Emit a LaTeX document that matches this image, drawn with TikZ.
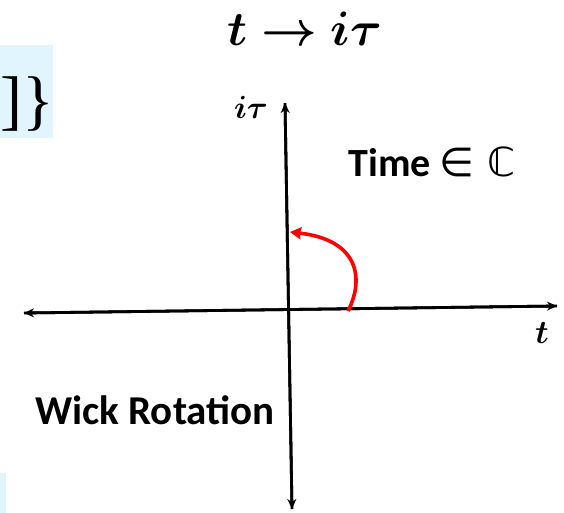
\documentclass[tikz,border=0pt]{standalone}
\usepackage{graphicx}
\usepackage{amsmath,amssymb,bm}
\usepackage{fontspec}
\setmainfont{Liberation Serif}
\newfontfamily\labelfont{Carlito}
\usetikzlibrary{arrows.meta}
\definecolor{boxblue}{HTML}{E1F5FE}
\definecolor{arcred}{HTML}{FF0000}
\tikzset{
  axis/.style={line width=2.8pt,-{Stealth[length=10pt,width=9pt]}},
  rot/.style={line width=3.6pt,arcred,-{Stealth[length=11pt,width=12pt,inset=1pt]}},
  lbl/.style={font=\labelfont\bfseries\fontsize{40}{46}\selectfont,inner sep=0pt},
  mathlbl/.style={inner sep=0pt}
}
\begin{document}
\begin{tikzpicture}[x=1pt,y=-1pt]
\useasboundingbox (0,0) rectangle (564,512);
\clip (0,0) rectangle (564,512);
% light blue panels at the left edge
\fill[boxblue] (-5,45) rectangle (53,138);
\fill[boxblue] (-5,473) rectangle (6,515);
\node[inner sep=0pt,anchor=west] (brace) at (0,104) {\fontsize{66}{72}\selectfont ]\}};
% title
\node[mathlbl,anchor=base] (title) at (305,45) {\resizebox{154pt}{!}{$\bm{t\rightarrow i\tau}$}};
% axes
\coordinate (vtop) at (285,103);
\coordinate (vbot) at (292,509);
\coordinate (hleft) at (24,313);
\coordinate (hright) at (557,306);
\draw[axis] (vbot) -- (vtop);
\draw[axis] (vtop) -- (vbot);
\draw[axis] (hright) -- (hleft);
\draw[axis] (hleft) -- (hright);
% axis labels
\node[mathlbl] (itau) at (251,107) {\resizebox{34pt}{!}{$\bm{i\tau}$}};
\node[mathlbl] (tlab) at (542,333) {\resizebox{!}{21pt}{$\bm{t}$}};
\node[lbl] (time) at (432,162) {Time \fontspec{DejaVu Sans}\mdseries ∈ ℂ};
\node[lbl,font=\labelfont\bfseries\fontsize{41}{46}\selectfont] (wick) at (155,410) {Wick Rotation};
% rotation arc
\coordinate (arcstart) at (348,311);
\coordinate (arcend) at (290,232);
\draw[rot] (arcstart) .. controls (364,280) and (360,240) .. (arcend);
\end{tikzpicture}
\end{document}
